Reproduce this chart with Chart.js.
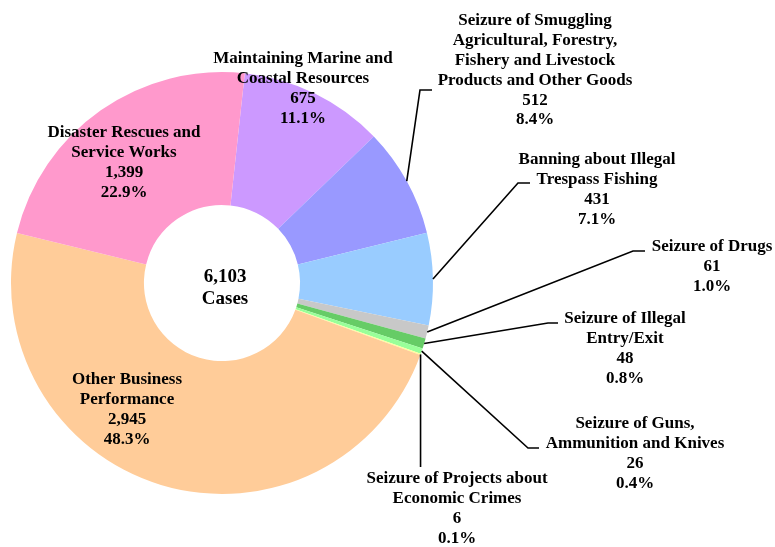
<!DOCTYPE html>
<html><head><meta charset="utf-8">
<script src="https://cdn.jsdelivr.net/npm/chart.js@4/dist/chart.umd.min.js"></script>
<style>html,body{margin:0;padding:0;background:#fff;overflow:hidden}</style>
</head><body>
<canvas id="c" width="775" height="547"></canvas>
<script>
const categories = [
  ["Maintaining Marine and", "Coastal Resources"],
  ["Seizure of Smuggling", "Agricultural, Forestry,", "Fishery and Livestock", "Products and Other Goods"],
  ["Banning about Illegal", "Trespass Fishing"],
  ["Seizure of Drugs"],
  ["Seizure of Illegal", "Entry/Exit"],
  ["Seizure of Guns,", "Ammunition and Knives"],
  ["Seizure of Projects about", "Economic Crimes"],
  ["Other Business", "Performance"],
  ["Disaster Rescues and", "Service Works"]
];
const caseCounts = [675, 512, 431, 61, 48, 26, 6, 2945, 1399];
const centerUnit = "Cases";

const sliceColors = ["#CC99FF", "#9999FF", "#99CCFF", "#C8C8C8", "#66CC66", "#99FF99", "#FFFF99", "#FFCC99", "#FF99CC"];

// label layout (x = centre of text block, y = first line centre); line = elbow points of leader
const labelLayout = [
  { x: 303, y: 59 },
  { x: 535, y: 21, line: [[420, 90], [432, 90]] },
  { x: 597, y: 160, line: [[518, 183], [530, 183]] },
  { x: 712, y: 247, line: [[633, 251], [645, 251]] },
  { x: 625, y: 319, line: [[548, 323], [558, 323]] },
  { x: 635, y: 424, line: [[528, 448], [539, 448]] },
  { x: 457, y: 479, vertical: 467 },
  { x: 127, y: 380 },
  { x: 124, y: 133 }
];
const LINE_H = 19.8;
const FONT = "bold 17px 'Liberation Serif', 'Times New Roman', serif";
const CENTER_FONT = "bold 19px 'Liberation Serif', 'Times New Roman', serif";

const total = caseCounts.reduce((a, b) => a + b, 0);
const fmt = n => n.toLocaleString('en-US');

const labelPlugin = {
  id: 'labels',
  afterDraw(chart) {
    const ctx = chart.ctx;
    const meta = chart.getDatasetMeta(0);
    ctx.save();
    ctx.font = FONT;
    ctx.fillStyle = '#000';
    ctx.textAlign = 'center';
    ctx.textBaseline = 'middle';
    ctx.strokeStyle = '#000';
    ctx.lineWidth = 1.6;
    meta.data.forEach((arc, i) => {
      const L = labelLayout[i];
      const lines = categories[i].concat([fmt(caseCounts[i]), (caseCounts[i] / total * 100).toFixed(1) + '%']);
      lines.forEach((t, k) => ctx.fillText(t, L.x, L.y + k * LINE_H));
      const p = arc.getProps(['x', 'y', 'startAngle', 'endAngle', 'outerRadius'], true);
      const mid = (p.startAngle + p.endAngle) / 2;
      const sx = p.x + Math.cos(mid) * p.outerRadius;
      const sy = p.y + Math.sin(mid) * p.outerRadius;
      if (L.line) {
        ctx.beginPath();
        ctx.moveTo(sx, sy);
        L.line.forEach(pt => ctx.lineTo(pt[0], pt[1]));
        ctx.stroke();
      } else if (L.vertical) {
        ctx.beginPath();
        ctx.moveTo(sx, sy);
        ctx.lineTo(sx, L.vertical);
        ctx.stroke();
      }
    });
    // centre text
    const a0 = meta.data[0];
    ctx.font = CENTER_FONT;
    ctx.fillText(fmt(total), a0.x + 3, a0.y - 6);
    ctx.fillText(centerUnit, a0.x + 3, a0.y + 16);
    ctx.restore();
  }
};

new Chart(document.getElementById('c'), {
  type: 'doughnut',
  data: {
    labels: categories.map(c => c.join(' ')),
    datasets: [{
      data: caseCounts,
      backgroundColor: sliceColors,
      borderWidth: 0
    }]
  },
  options: {
    responsive: false,
    animation: false,
    devicePixelRatio: 1,
    rotation: 6.2,
    cutout: '37%',
    layout: { padding: { left: 11, top: 72, right: 342, bottom: 53 } },
    plugins: { legend: { display: false }, tooltip: { enabled: false } }
  },
  plugins: [labelPlugin]
});
</script>
</body></html>
